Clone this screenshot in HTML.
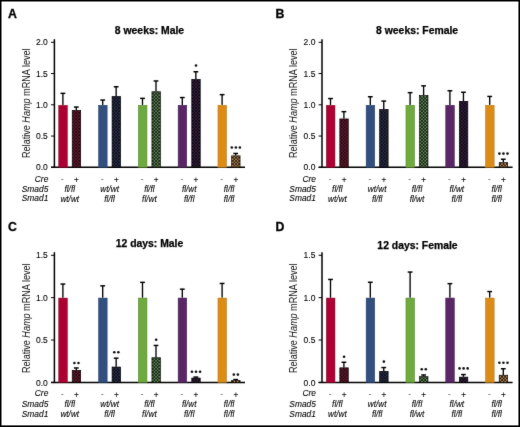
<!DOCTYPE html>
<html><head><meta charset="utf-8"><style>
html,body{margin:0;padding:0;background:#fff;}
#f{position:relative;width:520px;height:427px;overflow:hidden;background:#fff;}
#f svg{position:absolute;left:0;top:0;will-change:transform;}
text{font-family:"Liberation Sans", sans-serif;}
text.t{stroke:#000;stroke-width:0.1px;}
</style></head><body><div id="f">
<svg width="520" height="427" viewBox="0 0 520 427" font-family='"Liberation Sans", sans-serif'>
<defs>
<filter id='bl' x='0' y='0' width='520' height='427' filterUnits='userSpaceOnUse'><feConvolveMatrix order='3' kernelMatrix='0.01 0.06 0.01 0.06 0.72 0.06 0.01 0.06 0.01' edgeMode='duplicate'/></filter>
<pattern id="hred" patternUnits="userSpaceOnUse" width="3.2" height="3.2"><rect width="3.2" height="3.2" fill="#240610"/><rect x="0.1" y="0.1" width="1.4" height="1.4" fill="#722036"/><rect x="1.7" y="1.7" width="1.4" height="1.4" fill="#722036"/></pattern>
<pattern id="hblue" patternUnits="userSpaceOnUse" width="3.2" height="3.2"><rect width="3.2" height="3.2" fill="#090a16"/><rect x="0.1" y="0.1" width="1.4" height="1.4" fill="#343a52"/><rect x="1.7" y="1.7" width="1.4" height="1.4" fill="#343a52"/></pattern>
<pattern id="hgreen" patternUnits="userSpaceOnUse" width="3.2" height="3.2"><rect width="3.2" height="3.2" fill="#081206"/><rect x="0.1" y="0.1" width="1.4" height="1.4" fill="#78a06c"/><rect x="1.7" y="1.7" width="1.4" height="1.4" fill="#78a06c"/></pattern>
<pattern id="hpurple" patternUnits="userSpaceOnUse" width="3.2" height="3.2"><rect width="3.2" height="3.2" fill="#0e0610"/><rect x="0.1" y="0.1" width="1.4" height="1.4" fill="#3c2a46"/><rect x="1.7" y="1.7" width="1.4" height="1.4" fill="#3c2a46"/></pattern>
<pattern id="horange" patternUnits="userSpaceOnUse" width="3.2" height="3.2"><rect width="3.2" height="3.2" fill="#1a0800"/><rect x="0.1" y="0.1" width="1.4" height="1.4" fill="#d0a468"/><rect x="1.7" y="1.7" width="1.4" height="1.4" fill="#d0a468"/></pattern>
</defs>
<rect width='520' height='427' fill='#fff'/><g filter='url(#bl)'>
<g transform="translate(0,0)">
<text x="8" y="18" font-weight="bold" font-size="12.3" stroke="#000" stroke-width="0.3">A</text>
<text x="149.5" y="33.8" font-weight="bold" font-size="10.4" text-anchor="middle" stroke="#000" stroke-width="0.25">8 weeks: Male</text>
<line x1="54.4" y1="39.2" x2="54.4" y2="168.0" stroke="#000" stroke-width="1.5"/>
<line x1="51" y1="167.3" x2="245" y2="167.3" stroke="#000" stroke-width="1.5"/>
<line x1="51" y1="42.30" x2="54.4" y2="42.30" stroke="#000" stroke-width="1"/>
<text x="47.8" y="45.40" font-size="8.5" text-anchor="end" fill="#000" class="t">2.0</text>
<line x1="51" y1="73.55" x2="54.4" y2="73.55" stroke="#000" stroke-width="1"/>
<text x="47.8" y="76.65" font-size="8.5" text-anchor="end" fill="#000" class="t">1.5</text>
<line x1="51" y1="104.80" x2="54.4" y2="104.80" stroke="#000" stroke-width="1"/>
<text x="47.8" y="107.90" font-size="8.5" text-anchor="end" fill="#000" class="t">1.0</text>
<line x1="51" y1="136.05" x2="54.4" y2="136.05" stroke="#000" stroke-width="1"/>
<text x="47.8" y="139.15" font-size="8.5" text-anchor="end" fill="#000" class="t">0.5</text>
<line x1="51" y1="167.30" x2="54.4" y2="167.30" stroke="#000" stroke-width="1"/>
<text x="47.8" y="170.40" font-size="8.5" text-anchor="end" fill="#000" class="t">0.0</text>
<text transform="translate(29.7,103.2) rotate(-90) scale(1,1.17)" font-size="9.1" text-anchor="middle" fill="#111">Relative <tspan font-style="italic">Hamp</tspan> mRNA level</text>
<line x1="62.90" y1="93.30" x2="62.90" y2="105.00" stroke="#000" stroke-width="1.35"/>
<line x1="60.50" y1="93.35" x2="65.30" y2="93.35" stroke="#000" stroke-width="1.45"/>
<rect x="58.75" y="105.25" width="8.60" height="62.05" fill="#ad0630" stroke="#7a0a26" stroke-width="0.5"/>
<line x1="76.30" y1="107.00" x2="76.30" y2="110.10" stroke="#000" stroke-width="1.35"/>
<line x1="73.90" y1="107.05" x2="78.70" y2="107.05" stroke="#000" stroke-width="1.45"/>
<rect x="72.25" y="110.45" width="8.40" height="56.85" fill="url(#hred)" stroke="#000" stroke-width="0.7"/>
<text x="62.45" y="182.00" font-size="8.2" text-anchor="middle" fill="#555">-</text>
<text x="76.45" y="183.00" font-size="8.2" text-anchor="middle" fill="#000" class="t">+</text>
<text x="69.75" y="191.80" font-size="8.2" font-style="italic" text-anchor="middle" fill="#000" class="t">fl/fl</text>
<text x="69.75" y="201.50" font-size="8.2" font-style="italic" text-anchor="middle" fill="#000" class="t">wt/wt</text>
<line x1="102.70" y1="100.00" x2="102.70" y2="105.00" stroke="#000" stroke-width="1.35"/>
<line x1="100.30" y1="100.05" x2="105.10" y2="100.05" stroke="#000" stroke-width="1.45"/>
<rect x="98.55" y="105.25" width="8.60" height="62.05" fill="#30507f" stroke="#243a5e" stroke-width="0.5"/>
<line x1="116.15" y1="86.70" x2="116.15" y2="96.20" stroke="#000" stroke-width="1.35"/>
<line x1="113.75" y1="86.75" x2="118.55" y2="86.75" stroke="#000" stroke-width="1.45"/>
<rect x="112.10" y="96.55" width="8.40" height="70.75" fill="url(#hblue)" stroke="#000" stroke-width="0.7"/>
<text x="102.25" y="182.00" font-size="8.2" text-anchor="middle" fill="#555">-</text>
<text x="116.30" y="183.00" font-size="8.2" text-anchor="middle" fill="#000" class="t">+</text>
<text x="109.58" y="191.80" font-size="8.2" font-style="italic" text-anchor="middle" fill="#000" class="t">wt/wt</text>
<text x="109.58" y="201.50" font-size="8.2" font-style="italic" text-anchor="middle" fill="#000" class="t">fl/fl</text>
<line x1="142.50" y1="98.30" x2="142.50" y2="105.00" stroke="#000" stroke-width="1.35"/>
<line x1="140.10" y1="98.35" x2="144.90" y2="98.35" stroke="#000" stroke-width="1.45"/>
<rect x="138.35" y="105.25" width="8.60" height="62.05" fill="#6eaa3c" stroke="#4e7e2c" stroke-width="0.5"/>
<line x1="156.00" y1="80.90" x2="156.00" y2="91.40" stroke="#000" stroke-width="1.35"/>
<line x1="153.60" y1="80.95" x2="158.40" y2="80.95" stroke="#000" stroke-width="1.45"/>
<rect x="151.95" y="91.75" width="8.40" height="75.55" fill="url(#hgreen)" stroke="#000" stroke-width="0.7"/>
<text x="142.05" y="182.00" font-size="8.2" text-anchor="middle" fill="#555">-</text>
<text x="156.15" y="183.00" font-size="8.2" text-anchor="middle" fill="#000" class="t">+</text>
<text x="149.40" y="191.80" font-size="8.2" font-style="italic" text-anchor="middle" fill="#000" class="t">fl/fl</text>
<text x="149.40" y="201.50" font-size="8.2" font-style="italic" text-anchor="middle" fill="#000" class="t">fl/wt</text>
<line x1="182.30" y1="97.50" x2="182.30" y2="105.00" stroke="#000" stroke-width="1.35"/>
<line x1="179.90" y1="97.55" x2="184.70" y2="97.55" stroke="#000" stroke-width="1.45"/>
<rect x="178.15" y="105.25" width="8.60" height="62.05" fill="#5a2866" stroke="#3e1a48" stroke-width="0.5"/>
<line x1="195.85" y1="71.70" x2="195.85" y2="79.10" stroke="#000" stroke-width="1.35"/>
<line x1="193.45" y1="71.75" x2="198.25" y2="71.75" stroke="#000" stroke-width="1.45"/>
<rect x="191.80" y="79.45" width="8.40" height="87.85" fill="url(#hpurple)" stroke="#000" stroke-width="0.7"/>
<circle cx="196.00" cy="65.50" r="1.3" fill="#111"/>
<text x="181.85" y="182.00" font-size="8.2" text-anchor="middle" fill="#555">-</text>
<text x="196.00" y="183.00" font-size="8.2" text-anchor="middle" fill="#000" class="t">+</text>
<text x="189.23" y="191.80" font-size="8.2" font-style="italic" text-anchor="middle" fill="#000" class="t">fl/wt</text>
<text x="189.23" y="201.50" font-size="8.2" font-style="italic" text-anchor="middle" fill="#000" class="t">fl/fl</text>
<line x1="222.10" y1="94.60" x2="222.10" y2="105.00" stroke="#000" stroke-width="1.35"/>
<line x1="219.70" y1="94.65" x2="224.50" y2="94.65" stroke="#000" stroke-width="1.45"/>
<rect x="217.95" y="105.25" width="8.60" height="62.05" fill="#dc8c16" stroke="#b07418" stroke-width="0.5"/>
<line x1="235.70" y1="153.40" x2="235.70" y2="155.50" stroke="#000" stroke-width="1.35"/>
<line x1="233.30" y1="153.45" x2="238.10" y2="153.45" stroke="#000" stroke-width="1.45"/>
<rect x="231.65" y="155.85" width="8.40" height="11.45" fill="url(#horange)" stroke="#000" stroke-width="0.7"/>
<circle cx="231.80" cy="147.50" r="1.3" fill="#111"/>
<circle cx="235.85" cy="147.50" r="1.3" fill="#111"/>
<circle cx="239.90" cy="147.50" r="1.3" fill="#111"/>
<text x="221.65" y="182.00" font-size="8.2" text-anchor="middle" fill="#555">-</text>
<text x="235.85" y="183.00" font-size="8.2" text-anchor="middle" fill="#000" class="t">+</text>
<text x="229.05" y="191.80" font-size="8.2" font-style="italic" text-anchor="middle" fill="#000" class="t">fl/fl</text>
<text x="229.05" y="201.50" font-size="8.2" font-style="italic" text-anchor="middle" fill="#000" class="t">fl/fl</text>
<text x="48.3" y="182.10" font-size="8.4" font-style="italic" text-anchor="end" fill="#000" class="t">Cre</text>
<text x="48.3" y="191.80" font-size="8.4" font-style="italic" text-anchor="end" fill="#000" class="t">Smad5</text>
<text x="48.3" y="201.20" font-size="8.4" font-style="italic" text-anchor="end" fill="#000" class="t">Smad1</text>
</g>
<g transform="translate(267.6,0)">
<text x="8" y="18" font-weight="bold" font-size="12.3" stroke="#000" stroke-width="0.3">B</text>
<text x="149.5" y="33.8" font-weight="bold" font-size="10.4" text-anchor="middle" stroke="#000" stroke-width="0.25">8 weeks: Female</text>
<line x1="54.4" y1="39.2" x2="54.4" y2="168.0" stroke="#000" stroke-width="1.5"/>
<line x1="51" y1="167.3" x2="245" y2="167.3" stroke="#000" stroke-width="1.5"/>
<line x1="51" y1="42.30" x2="54.4" y2="42.30" stroke="#000" stroke-width="1"/>
<text x="47.8" y="45.40" font-size="8.5" text-anchor="end" fill="#000" class="t">2.0</text>
<line x1="51" y1="73.55" x2="54.4" y2="73.55" stroke="#000" stroke-width="1"/>
<text x="47.8" y="76.65" font-size="8.5" text-anchor="end" fill="#000" class="t">1.5</text>
<line x1="51" y1="104.80" x2="54.4" y2="104.80" stroke="#000" stroke-width="1"/>
<text x="47.8" y="107.90" font-size="8.5" text-anchor="end" fill="#000" class="t">1.0</text>
<line x1="51" y1="136.05" x2="54.4" y2="136.05" stroke="#000" stroke-width="1"/>
<text x="47.8" y="139.15" font-size="8.5" text-anchor="end" fill="#000" class="t">0.5</text>
<line x1="51" y1="167.30" x2="54.4" y2="167.30" stroke="#000" stroke-width="1"/>
<text x="47.8" y="170.40" font-size="8.5" text-anchor="end" fill="#000" class="t">0.0</text>
<text transform="translate(29.7,103.2) rotate(-90) scale(1,1.17)" font-size="9.1" text-anchor="middle" fill="#111">Relative <tspan font-style="italic">Hamp</tspan> mRNA level</text>
<line x1="62.90" y1="98.50" x2="62.90" y2="105.00" stroke="#000" stroke-width="1.35"/>
<line x1="60.50" y1="98.55" x2="65.30" y2="98.55" stroke="#000" stroke-width="1.45"/>
<rect x="58.75" y="105.25" width="8.60" height="62.05" fill="#ad0630" stroke="#7a0a26" stroke-width="0.5"/>
<line x1="76.30" y1="111.60" x2="76.30" y2="118.60" stroke="#000" stroke-width="1.35"/>
<line x1="73.90" y1="111.65" x2="78.70" y2="111.65" stroke="#000" stroke-width="1.45"/>
<rect x="72.25" y="118.95" width="8.40" height="48.35" fill="url(#hred)" stroke="#000" stroke-width="0.7"/>
<text x="62.45" y="182.00" font-size="8.2" text-anchor="middle" fill="#555">-</text>
<text x="76.45" y="183.00" font-size="8.2" text-anchor="middle" fill="#000" class="t">+</text>
<text x="69.75" y="191.80" font-size="8.2" font-style="italic" text-anchor="middle" fill="#000" class="t">fl/fl</text>
<text x="69.75" y="201.50" font-size="8.2" font-style="italic" text-anchor="middle" fill="#000" class="t">wt/wt</text>
<line x1="102.70" y1="96.70" x2="102.70" y2="105.00" stroke="#000" stroke-width="1.35"/>
<line x1="100.30" y1="96.75" x2="105.10" y2="96.75" stroke="#000" stroke-width="1.45"/>
<rect x="98.55" y="105.25" width="8.60" height="62.05" fill="#30507f" stroke="#243a5e" stroke-width="0.5"/>
<line x1="116.15" y1="101.00" x2="116.15" y2="109.20" stroke="#000" stroke-width="1.35"/>
<line x1="113.75" y1="101.05" x2="118.55" y2="101.05" stroke="#000" stroke-width="1.45"/>
<rect x="112.10" y="109.55" width="8.40" height="57.75" fill="url(#hblue)" stroke="#000" stroke-width="0.7"/>
<text x="102.25" y="182.00" font-size="8.2" text-anchor="middle" fill="#555">-</text>
<text x="116.30" y="183.00" font-size="8.2" text-anchor="middle" fill="#000" class="t">+</text>
<text x="109.58" y="191.80" font-size="8.2" font-style="italic" text-anchor="middle" fill="#000" class="t">wt/wt</text>
<text x="109.58" y="201.50" font-size="8.2" font-style="italic" text-anchor="middle" fill="#000" class="t">fl/fl</text>
<line x1="142.50" y1="92.60" x2="142.50" y2="105.00" stroke="#000" stroke-width="1.35"/>
<line x1="140.10" y1="92.65" x2="144.90" y2="92.65" stroke="#000" stroke-width="1.45"/>
<rect x="138.35" y="105.25" width="8.60" height="62.05" fill="#6eaa3c" stroke="#4e7e2c" stroke-width="0.5"/>
<line x1="156.00" y1="85.80" x2="156.00" y2="95.20" stroke="#000" stroke-width="1.35"/>
<line x1="153.60" y1="85.85" x2="158.40" y2="85.85" stroke="#000" stroke-width="1.45"/>
<rect x="151.95" y="95.55" width="8.40" height="71.75" fill="url(#hgreen)" stroke="#000" stroke-width="0.7"/>
<text x="142.05" y="182.00" font-size="8.2" text-anchor="middle" fill="#555">-</text>
<text x="156.15" y="183.00" font-size="8.2" text-anchor="middle" fill="#000" class="t">+</text>
<text x="149.40" y="191.80" font-size="8.2" font-style="italic" text-anchor="middle" fill="#000" class="t">fl/fl</text>
<text x="149.40" y="201.50" font-size="8.2" font-style="italic" text-anchor="middle" fill="#000" class="t">fl/wt</text>
<line x1="182.30" y1="90.70" x2="182.30" y2="105.00" stroke="#000" stroke-width="1.35"/>
<line x1="179.90" y1="90.75" x2="184.70" y2="90.75" stroke="#000" stroke-width="1.45"/>
<rect x="178.15" y="105.25" width="8.60" height="62.05" fill="#5a2866" stroke="#3e1a48" stroke-width="0.5"/>
<line x1="195.85" y1="92.20" x2="195.85" y2="101.00" stroke="#000" stroke-width="1.35"/>
<line x1="193.45" y1="92.25" x2="198.25" y2="92.25" stroke="#000" stroke-width="1.45"/>
<rect x="191.80" y="101.35" width="8.40" height="65.95" fill="url(#hpurple)" stroke="#000" stroke-width="0.7"/>
<text x="181.85" y="182.00" font-size="8.2" text-anchor="middle" fill="#555">-</text>
<text x="196.00" y="183.00" font-size="8.2" text-anchor="middle" fill="#000" class="t">+</text>
<text x="189.23" y="191.80" font-size="8.2" font-style="italic" text-anchor="middle" fill="#000" class="t">fl/wt</text>
<text x="189.23" y="201.50" font-size="8.2" font-style="italic" text-anchor="middle" fill="#000" class="t">fl/fl</text>
<line x1="222.10" y1="96.40" x2="222.10" y2="105.00" stroke="#000" stroke-width="1.35"/>
<line x1="219.70" y1="96.45" x2="224.50" y2="96.45" stroke="#000" stroke-width="1.45"/>
<rect x="217.95" y="105.25" width="8.60" height="62.05" fill="#dc8c16" stroke="#b07418" stroke-width="0.5"/>
<line x1="235.70" y1="159.20" x2="235.70" y2="162.30" stroke="#000" stroke-width="1.35"/>
<line x1="233.30" y1="159.25" x2="238.10" y2="159.25" stroke="#000" stroke-width="1.45"/>
<rect x="231.65" y="162.65" width="8.40" height="4.65" fill="url(#horange)" stroke="#000" stroke-width="0.7"/>
<circle cx="231.80" cy="153.60" r="1.3" fill="#111"/>
<circle cx="235.85" cy="153.60" r="1.3" fill="#111"/>
<circle cx="239.90" cy="153.60" r="1.3" fill="#111"/>
<text x="221.65" y="182.00" font-size="8.2" text-anchor="middle" fill="#555">-</text>
<text x="235.85" y="183.00" font-size="8.2" text-anchor="middle" fill="#000" class="t">+</text>
<text x="229.05" y="191.80" font-size="8.2" font-style="italic" text-anchor="middle" fill="#000" class="t">fl/fl</text>
<text x="229.05" y="201.50" font-size="8.2" font-style="italic" text-anchor="middle" fill="#000" class="t">fl/fl</text>
<text x="48.3" y="182.10" font-size="8.4" font-style="italic" text-anchor="end" fill="#000" class="t">Cre</text>
<text x="48.3" y="191.80" font-size="8.4" font-style="italic" text-anchor="end" fill="#000" class="t">Smad5</text>
<text x="48.3" y="201.20" font-size="8.4" font-style="italic" text-anchor="end" fill="#000" class="t">Smad1</text>
</g>
<g transform="translate(0,0)">
<text x="8" y="231" font-weight="bold" font-size="12.3" stroke="#000" stroke-width="0.3">C</text>
<text x="149.5" y="246.8" font-weight="bold" font-size="10.4" text-anchor="middle" stroke="#000" stroke-width="0.25">12 days: Male</text>
<line x1="54.4" y1="252.2" x2="54.4" y2="383.09999999999997" stroke="#000" stroke-width="1.5"/>
<line x1="51" y1="382.4" x2="245" y2="382.4" stroke="#000" stroke-width="1.5"/>
<line x1="51" y1="255.30" x2="54.4" y2="255.30" stroke="#000" stroke-width="1"/>
<text x="47.8" y="258.40" font-size="8.5" text-anchor="end" fill="#000" class="t">1.5</text>
<line x1="51" y1="297.67" x2="54.4" y2="297.67" stroke="#000" stroke-width="1"/>
<text x="47.8" y="300.77" font-size="8.5" text-anchor="end" fill="#000" class="t">1.0</text>
<line x1="51" y1="340.03" x2="54.4" y2="340.03" stroke="#000" stroke-width="1"/>
<text x="47.8" y="343.13" font-size="8.5" text-anchor="end" fill="#000" class="t">0.5</text>
<line x1="51" y1="382.40" x2="54.4" y2="382.40" stroke="#000" stroke-width="1"/>
<text x="47.8" y="385.50" font-size="8.5" text-anchor="end" fill="#000" class="t">0.0</text>
<text transform="translate(29.7,318.2) rotate(-90) scale(1,1.17)" font-size="9.1" text-anchor="middle" fill="#111">Relative <tspan font-style="italic">Hamp</tspan> mRNA level</text>
<line x1="62.90" y1="284.00" x2="62.90" y2="297.80" stroke="#000" stroke-width="1.35"/>
<line x1="60.50" y1="284.05" x2="65.30" y2="284.05" stroke="#000" stroke-width="1.45"/>
<rect x="58.75" y="298.05" width="8.60" height="84.35" fill="#ad0630" stroke="#7a0a26" stroke-width="0.5"/>
<line x1="76.30" y1="367.90" x2="76.30" y2="370.00" stroke="#000" stroke-width="1.35"/>
<line x1="73.90" y1="367.95" x2="78.70" y2="367.95" stroke="#000" stroke-width="1.45"/>
<rect x="72.25" y="370.35" width="8.40" height="12.05" fill="url(#hred)" stroke="#000" stroke-width="0.7"/>
<circle cx="74.42" cy="363.00" r="1.3" fill="#111"/>
<circle cx="78.48" cy="363.00" r="1.3" fill="#111"/>
<text x="62.45" y="397.40" font-size="8.2" text-anchor="middle" fill="#555">-</text>
<text x="76.45" y="398.40" font-size="8.2" text-anchor="middle" fill="#000" class="t">+</text>
<text x="69.75" y="406.70" font-size="8.2" font-style="italic" text-anchor="middle" fill="#000" class="t">fl/fl</text>
<text x="69.75" y="416.70" font-size="8.2" font-style="italic" text-anchor="middle" fill="#000" class="t">wt/wt</text>
<line x1="102.70" y1="285.80" x2="102.70" y2="297.80" stroke="#000" stroke-width="1.35"/>
<line x1="100.30" y1="285.85" x2="105.10" y2="285.85" stroke="#000" stroke-width="1.45"/>
<rect x="98.55" y="298.05" width="8.60" height="84.35" fill="#30507f" stroke="#243a5e" stroke-width="0.5"/>
<line x1="116.15" y1="358.10" x2="116.15" y2="366.70" stroke="#000" stroke-width="1.35"/>
<line x1="113.75" y1="358.15" x2="118.55" y2="358.15" stroke="#000" stroke-width="1.45"/>
<rect x="112.10" y="367.05" width="8.40" height="15.35" fill="url(#hblue)" stroke="#000" stroke-width="0.7"/>
<circle cx="114.27" cy="352.30" r="1.3" fill="#111"/>
<circle cx="118.33" cy="352.30" r="1.3" fill="#111"/>
<text x="102.25" y="397.40" font-size="8.2" text-anchor="middle" fill="#555">-</text>
<text x="116.30" y="398.40" font-size="8.2" text-anchor="middle" fill="#000" class="t">+</text>
<text x="109.58" y="406.70" font-size="8.2" font-style="italic" text-anchor="middle" fill="#000" class="t">wt/wt</text>
<text x="109.58" y="416.70" font-size="8.2" font-style="italic" text-anchor="middle" fill="#000" class="t">fl/fl</text>
<line x1="142.50" y1="282.30" x2="142.50" y2="297.80" stroke="#000" stroke-width="1.35"/>
<line x1="140.10" y1="282.35" x2="144.90" y2="282.35" stroke="#000" stroke-width="1.45"/>
<rect x="138.35" y="298.05" width="8.60" height="84.35" fill="#6eaa3c" stroke="#4e7e2c" stroke-width="0.5"/>
<line x1="156.00" y1="345.40" x2="156.00" y2="357.40" stroke="#000" stroke-width="1.35"/>
<line x1="153.60" y1="345.45" x2="158.40" y2="345.45" stroke="#000" stroke-width="1.45"/>
<rect x="151.95" y="357.75" width="8.40" height="24.65" fill="url(#hgreen)" stroke="#000" stroke-width="0.7"/>
<circle cx="156.15" cy="339.80" r="1.3" fill="#111"/>
<text x="142.05" y="397.40" font-size="8.2" text-anchor="middle" fill="#555">-</text>
<text x="156.15" y="398.40" font-size="8.2" text-anchor="middle" fill="#000" class="t">+</text>
<text x="149.40" y="406.70" font-size="8.2" font-style="italic" text-anchor="middle" fill="#000" class="t">fl/fl</text>
<text x="149.40" y="416.70" font-size="8.2" font-style="italic" text-anchor="middle" fill="#000" class="t">fl/wt</text>
<line x1="182.30" y1="289.10" x2="182.30" y2="297.80" stroke="#000" stroke-width="1.35"/>
<line x1="179.90" y1="289.15" x2="184.70" y2="289.15" stroke="#000" stroke-width="1.45"/>
<rect x="178.15" y="298.05" width="8.60" height="84.35" fill="#5a2866" stroke="#3e1a48" stroke-width="0.5"/>
<line x1="195.85" y1="377.00" x2="195.85" y2="377.70" stroke="#000" stroke-width="1.35"/>
<line x1="193.45" y1="377.05" x2="198.25" y2="377.05" stroke="#000" stroke-width="1.45"/>
<rect x="191.80" y="378.05" width="8.40" height="4.35" fill="url(#hpurple)" stroke="#000" stroke-width="0.7"/>
<circle cx="191.95" cy="371.70" r="1.3" fill="#111"/>
<circle cx="196.00" cy="371.70" r="1.3" fill="#111"/>
<circle cx="200.05" cy="371.70" r="1.3" fill="#111"/>
<text x="181.85" y="397.40" font-size="8.2" text-anchor="middle" fill="#555">-</text>
<text x="196.00" y="398.40" font-size="8.2" text-anchor="middle" fill="#000" class="t">+</text>
<text x="189.23" y="406.70" font-size="8.2" font-style="italic" text-anchor="middle" fill="#000" class="t">fl/wt</text>
<text x="189.23" y="416.70" font-size="8.2" font-style="italic" text-anchor="middle" fill="#000" class="t">fl/fl</text>
<line x1="222.10" y1="283.40" x2="222.10" y2="297.80" stroke="#000" stroke-width="1.35"/>
<line x1="219.70" y1="283.45" x2="224.50" y2="283.45" stroke="#000" stroke-width="1.45"/>
<rect x="217.95" y="298.05" width="8.60" height="84.35" fill="#dc8c16" stroke="#b07418" stroke-width="0.5"/>
<line x1="235.70" y1="379.50" x2="235.70" y2="380.20" stroke="#000" stroke-width="1.35"/>
<line x1="233.30" y1="379.55" x2="238.10" y2="379.55" stroke="#000" stroke-width="1.45"/>
<rect x="231.65" y="380.55" width="8.40" height="1.85" fill="url(#horange)" stroke="#000" stroke-width="0.7"/>
<circle cx="233.83" cy="374.60" r="1.3" fill="#111"/>
<circle cx="237.88" cy="374.60" r="1.3" fill="#111"/>
<text x="221.65" y="397.40" font-size="8.2" text-anchor="middle" fill="#555">-</text>
<text x="235.85" y="398.40" font-size="8.2" text-anchor="middle" fill="#000" class="t">+</text>
<text x="229.05" y="406.70" font-size="8.2" font-style="italic" text-anchor="middle" fill="#000" class="t">fl/fl</text>
<text x="229.05" y="416.70" font-size="8.2" font-style="italic" text-anchor="middle" fill="#000" class="t">fl/fl</text>
<text x="48.3" y="396.30" font-size="8.4" font-style="italic" text-anchor="end" fill="#000" class="t">Cre</text>
<text x="48.3" y="406.50" font-size="8.4" font-style="italic" text-anchor="end" fill="#000" class="t">Smad5</text>
<text x="48.3" y="416.50" font-size="8.4" font-style="italic" text-anchor="end" fill="#000" class="t">Smad1</text>
</g>
<g transform="translate(267.6,0)">
<text x="8" y="231" font-weight="bold" font-size="12.3" stroke="#000" stroke-width="0.3">D</text>
<text x="149.9" y="249.10000000000002" font-weight="bold" font-size="10.4" text-anchor="middle" stroke="#000" stroke-width="0.25">12 days: Female</text>
<line x1="54.4" y1="252.2" x2="54.4" y2="383.09999999999997" stroke="#000" stroke-width="1.5"/>
<line x1="51" y1="382.4" x2="245" y2="382.4" stroke="#000" stroke-width="1.5"/>
<line x1="51" y1="255.30" x2="54.4" y2="255.30" stroke="#000" stroke-width="1"/>
<text x="47.8" y="258.40" font-size="8.5" text-anchor="end" fill="#000" class="t">1.5</text>
<line x1="51" y1="297.67" x2="54.4" y2="297.67" stroke="#000" stroke-width="1"/>
<text x="47.8" y="300.77" font-size="8.5" text-anchor="end" fill="#000" class="t">1.0</text>
<line x1="51" y1="340.03" x2="54.4" y2="340.03" stroke="#000" stroke-width="1"/>
<text x="47.8" y="343.13" font-size="8.5" text-anchor="end" fill="#000" class="t">0.5</text>
<line x1="51" y1="382.40" x2="54.4" y2="382.40" stroke="#000" stroke-width="1"/>
<text x="47.8" y="385.50" font-size="8.5" text-anchor="end" fill="#000" class="t">0.0</text>
<text transform="translate(29.7,318.2) rotate(-90) scale(1,1.17)" font-size="9.1" text-anchor="middle" fill="#111">Relative <tspan font-style="italic">Hamp</tspan> mRNA level</text>
<line x1="62.90" y1="279.40" x2="62.90" y2="297.80" stroke="#000" stroke-width="1.35"/>
<line x1="60.50" y1="279.45" x2="65.30" y2="279.45" stroke="#000" stroke-width="1.45"/>
<rect x="58.75" y="298.05" width="8.60" height="84.35" fill="#ad0630" stroke="#7a0a26" stroke-width="0.5"/>
<line x1="76.30" y1="362.20" x2="76.30" y2="367.50" stroke="#000" stroke-width="1.35"/>
<line x1="73.90" y1="362.25" x2="78.70" y2="362.25" stroke="#000" stroke-width="1.45"/>
<rect x="72.25" y="367.85" width="8.40" height="14.55" fill="url(#hred)" stroke="#000" stroke-width="0.7"/>
<circle cx="76.45" cy="356.70" r="1.3" fill="#111"/>
<text x="62.45" y="397.40" font-size="8.2" text-anchor="middle" fill="#555">-</text>
<text x="76.45" y="398.40" font-size="8.2" text-anchor="middle" fill="#000" class="t">+</text>
<text x="69.75" y="406.70" font-size="8.2" font-style="italic" text-anchor="middle" fill="#000" class="t">fl/fl</text>
<text x="69.75" y="416.70" font-size="8.2" font-style="italic" text-anchor="middle" fill="#000" class="t">wt/wt</text>
<line x1="102.70" y1="282.20" x2="102.70" y2="297.80" stroke="#000" stroke-width="1.35"/>
<line x1="100.30" y1="282.25" x2="105.10" y2="282.25" stroke="#000" stroke-width="1.45"/>
<rect x="98.55" y="298.05" width="8.60" height="84.35" fill="#30507f" stroke="#243a5e" stroke-width="0.5"/>
<line x1="116.15" y1="367.50" x2="116.15" y2="371.00" stroke="#000" stroke-width="1.35"/>
<line x1="113.75" y1="367.55" x2="118.55" y2="367.55" stroke="#000" stroke-width="1.45"/>
<rect x="112.10" y="371.35" width="8.40" height="11.05" fill="url(#hblue)" stroke="#000" stroke-width="0.7"/>
<circle cx="116.30" cy="361.60" r="1.3" fill="#111"/>
<text x="102.25" y="397.40" font-size="8.2" text-anchor="middle" fill="#555">-</text>
<text x="116.30" y="398.40" font-size="8.2" text-anchor="middle" fill="#000" class="t">+</text>
<text x="109.58" y="406.70" font-size="8.2" font-style="italic" text-anchor="middle" fill="#000" class="t">wt/wt</text>
<text x="109.58" y="416.70" font-size="8.2" font-style="italic" text-anchor="middle" fill="#000" class="t">fl/fl</text>
<line x1="142.50" y1="272.00" x2="142.50" y2="297.80" stroke="#000" stroke-width="1.35"/>
<line x1="140.10" y1="272.05" x2="144.90" y2="272.05" stroke="#000" stroke-width="1.45"/>
<rect x="138.35" y="298.05" width="8.60" height="84.35" fill="#6eaa3c" stroke="#4e7e2c" stroke-width="0.5"/>
<line x1="156.00" y1="374.90" x2="156.00" y2="376.30" stroke="#000" stroke-width="1.35"/>
<line x1="153.60" y1="374.95" x2="158.40" y2="374.95" stroke="#000" stroke-width="1.45"/>
<rect x="151.95" y="376.65" width="8.40" height="5.75" fill="url(#hgreen)" stroke="#000" stroke-width="0.7"/>
<circle cx="154.13" cy="369.20" r="1.3" fill="#111"/>
<circle cx="158.18" cy="369.20" r="1.3" fill="#111"/>
<text x="142.05" y="397.40" font-size="8.2" text-anchor="middle" fill="#555">-</text>
<text x="156.15" y="398.40" font-size="8.2" text-anchor="middle" fill="#000" class="t">+</text>
<text x="149.40" y="406.70" font-size="8.2" font-style="italic" text-anchor="middle" fill="#000" class="t">fl/fl</text>
<text x="149.40" y="416.70" font-size="8.2" font-style="italic" text-anchor="middle" fill="#000" class="t">fl/wt</text>
<line x1="182.30" y1="283.60" x2="182.30" y2="297.80" stroke="#000" stroke-width="1.35"/>
<line x1="179.90" y1="283.65" x2="184.70" y2="283.65" stroke="#000" stroke-width="1.45"/>
<rect x="178.15" y="298.05" width="8.60" height="84.35" fill="#5a2866" stroke="#3e1a48" stroke-width="0.5"/>
<line x1="195.85" y1="374.50" x2="195.85" y2="376.80" stroke="#000" stroke-width="1.35"/>
<line x1="193.45" y1="374.55" x2="198.25" y2="374.55" stroke="#000" stroke-width="1.45"/>
<rect x="191.80" y="377.15" width="8.40" height="5.25" fill="url(#hpurple)" stroke="#000" stroke-width="0.7"/>
<circle cx="191.95" cy="368.40" r="1.3" fill="#111"/>
<circle cx="196.00" cy="368.40" r="1.3" fill="#111"/>
<circle cx="200.05" cy="368.40" r="1.3" fill="#111"/>
<text x="181.85" y="397.40" font-size="8.2" text-anchor="middle" fill="#555">-</text>
<text x="196.00" y="398.40" font-size="8.2" text-anchor="middle" fill="#000" class="t">+</text>
<text x="189.23" y="406.70" font-size="8.2" font-style="italic" text-anchor="middle" fill="#000" class="t">fl/wt</text>
<text x="189.23" y="416.70" font-size="8.2" font-style="italic" text-anchor="middle" fill="#000" class="t">fl/fl</text>
<line x1="222.10" y1="291.50" x2="222.10" y2="297.80" stroke="#000" stroke-width="1.35"/>
<line x1="219.70" y1="291.55" x2="224.50" y2="291.55" stroke="#000" stroke-width="1.45"/>
<rect x="217.95" y="298.05" width="8.60" height="84.35" fill="#dc8c16" stroke="#b07418" stroke-width="0.5"/>
<line x1="235.70" y1="368.70" x2="235.70" y2="374.90" stroke="#000" stroke-width="1.35"/>
<line x1="233.30" y1="368.75" x2="238.10" y2="368.75" stroke="#000" stroke-width="1.45"/>
<rect x="231.65" y="375.25" width="8.40" height="7.15" fill="url(#horange)" stroke="#000" stroke-width="0.7"/>
<circle cx="231.80" cy="362.80" r="1.3" fill="#111"/>
<circle cx="235.85" cy="362.80" r="1.3" fill="#111"/>
<circle cx="239.90" cy="362.80" r="1.3" fill="#111"/>
<text x="221.65" y="397.40" font-size="8.2" text-anchor="middle" fill="#555">-</text>
<text x="235.85" y="398.40" font-size="8.2" text-anchor="middle" fill="#000" class="t">+</text>
<text x="229.05" y="406.70" font-size="8.2" font-style="italic" text-anchor="middle" fill="#000" class="t">fl/fl</text>
<text x="229.05" y="416.70" font-size="8.2" font-style="italic" text-anchor="middle" fill="#000" class="t">fl/fl</text>
<text x="48.3" y="396.30" font-size="8.4" font-style="italic" text-anchor="end" fill="#000" class="t">Cre</text>
<text x="48.3" y="406.50" font-size="8.4" font-style="italic" text-anchor="end" fill="#000" class="t">Smad5</text>
<text x="48.3" y="416.50" font-size="8.4" font-style="italic" text-anchor="end" fill="#000" class="t">Smad1</text>
</g>
</g>
<rect x="0" y="0" width="520" height="1.5" fill="#000"/>
<rect x="0" y="0" width="1.5" height="427" fill="#000"/>
<rect x="518.45" y="0" width="1.55" height="427" fill="#000"/>
<rect x="0" y="425.4" width="520" height="1.6" fill="#000"/>
</svg></div></body></html>
